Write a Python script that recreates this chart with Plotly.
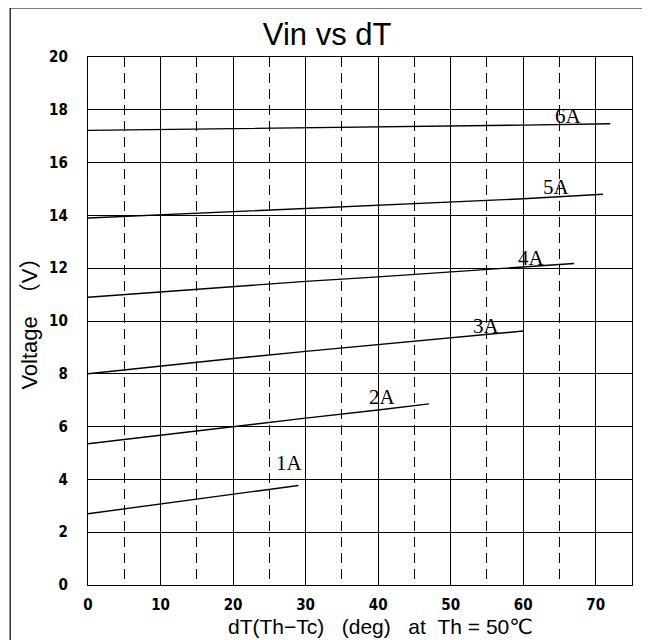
import plotly.graph_objects as go

# Data
series_names = ["1A", "2A", "3A", "4A", "5A", "6A"]
x_1A = [0, 10, 20, 29]
y_1A = [2.70, 3.07, 3.43, 3.77]
x_2A = [0, 10, 20, 30, 40, 47]
y_2A = [5.35, 5.68, 6.00, 6.32, 6.63, 6.86]
x_3A = [0, 10, 20, 30, 40, 50, 60]
y_3A = [8.00, 8.30, 8.58, 8.85, 9.10, 9.35, 9.62]
x_4A = [0, 10, 20, 30, 40, 50, 60, 67]
y_4A = [10.90, 11.10, 11.30, 11.50, 11.67, 11.85, 12.05, 12.18]
x_5A = [0, 10, 20, 30, 40, 50, 60, 71]
y_5A = [13.90, 14.02, 14.14, 14.26, 14.38, 14.50, 14.63, 14.80]
x_6A = [0, 10, 20, 30, 40, 50, 60, 72]
y_6A = [17.22, 17.25, 17.28, 17.31, 17.34, 17.38, 17.42, 17.47]
label_x = [27.8, 40.6, 55.0, 61.2, 64.6, 66.3]
label_y = [4.62, 7.12, 9.82, 12.38, 15.08, 17.75]

title_text = "Vin vs dT"
NB = "\u00a0"
x_title = "dT(Th−Tc)" + NB * 3 + "(deg)" + NB * 3 + "at" + NB * 2 + "Th" + NB + "=" + NB + "50℃"
y_title = "Voltage　（V）"

xs = [x_1A, x_2A, x_3A, x_4A, x_5A, x_6A]
ys = [y_1A, y_2A, y_3A, y_4A, y_5A, y_6A]

fig = go.Figure()
for name, xv, yv in zip(series_names, xs, ys):
    fig.add_trace(go.Scatter(x=xv, y=yv, mode="lines", name=name,
                             line=dict(color="black", width=1.4), showlegend=False))

for name, lx, ly in zip(series_names, label_x, label_y):
    fig.add_annotation(x=lx, y=ly, text=name, showarrow=False,
                       font=dict(family="Liberation Serif", size=21, color="black"))

# axis titles as annotations (positioned like the reference)
fig.add_annotation(xref="paper", yref="paper", x=0.537, y=-0.0795, text=x_title,
                   showarrow=False, xanchor="center", yanchor="middle",
                   font=dict(family="Liberation Sans, DejaVu Sans", size=21, color="black"))
fig.add_annotation(xref="paper", yref="paper", x=-0.107, y=0.506, text=y_title,
                   showarrow=False, textangle=-90, xanchor="center", yanchor="middle",
                   font=dict(family="Liberation Sans, Noto Sans CJK JP", size=22, color="black"))

fig.add_shape(type="rect", xref="paper", yref="paper", x0=-0.143, x1=1.028, y0=-0.3, y1=1.093,
              line=dict(color="black", width=1.2), fillcolor="rgba(0,0,0,0)", layer="below")

tick_font = dict(family="Liberation Sans Narrow, DejaVu Sans Condensed, Liberation Sans",
                 size=15, color="black", weight="bold")

fig.update_layout(
    width=650, height=640,
    margin=dict(l=80, r=26, t=49, b=63),
    paper_bgcolor="white", plot_bgcolor="white",
    title=dict(text=title_text, x=0.491, xref="container", xanchor="center",
               y=0.959, yref="container", yanchor="middle",
               font=dict(family="Liberation Sans", size=31, color="black")),
    font=dict(family="Liberation Sans", color="black"),
)
fig.update_xaxes(range=[0, 75], tickmode="linear", tick0=0, dtick=10,
                 showgrid=True, gridcolor="black", gridwidth=1,
                 minor=dict(tick0=5, dtick=5, showgrid=True, gridcolor="black",
                            gridwidth=1, griddash="10px,6px"),
                 showline=True, linecolor="black", linewidth=1.2, mirror=True,
                 zeroline=False, ticks="", ticklabelstandoff=6,
                 tickfont=tick_font)
fig.update_yaxes(range=[0, 20], tickmode="linear", tick0=0, dtick=2,
                 showgrid=True, gridcolor="black", gridwidth=1,
                 showline=True, linecolor="black", linewidth=1.2, mirror=True,
                 zeroline=False, ticks="", ticklabelstandoff=16,
                 tickfont=tick_font)

fig.write_html("out.html")
